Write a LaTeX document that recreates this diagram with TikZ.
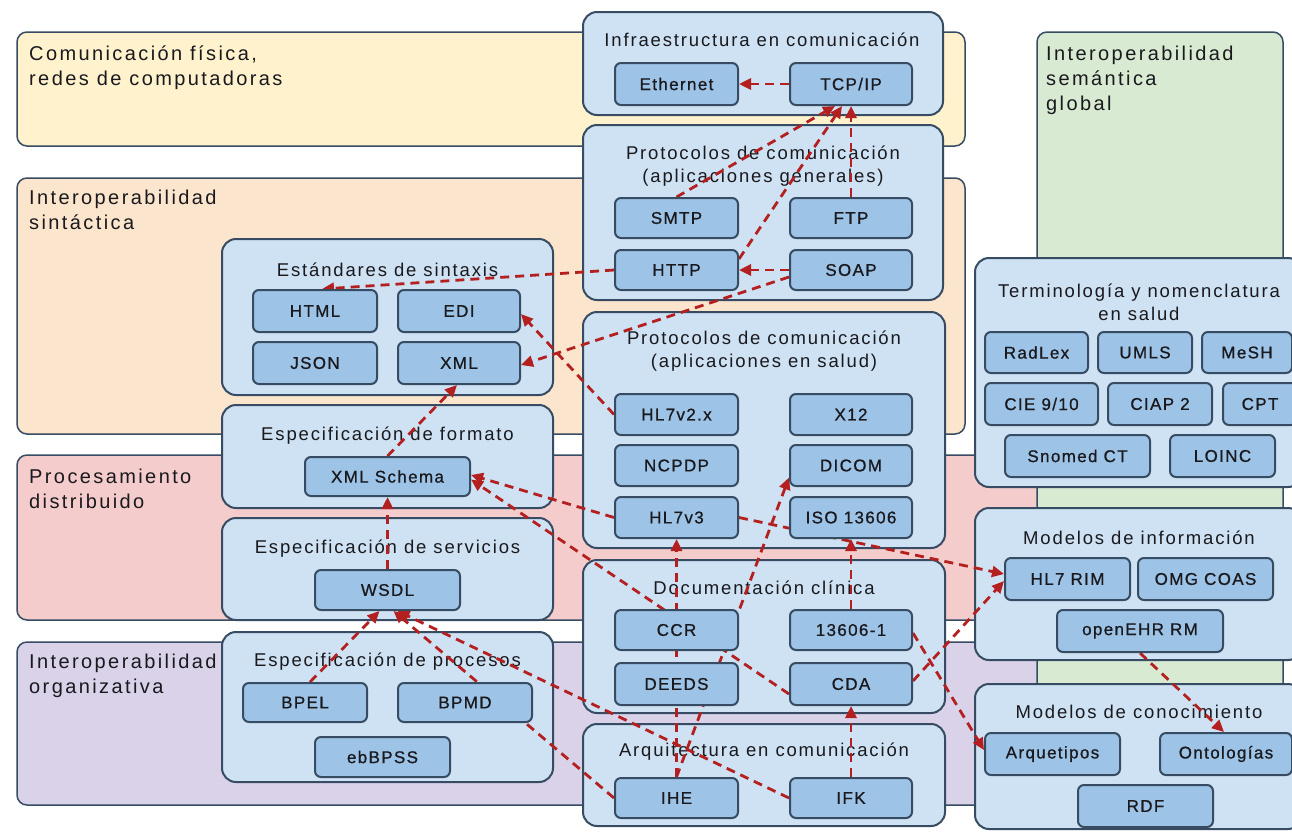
\documentclass[tikz,border=0pt]{standalone}
\usepackage{fontspec}
\setmainfont{Liberation Sans}
\newfontfamily\bandfont{Liberation Sans}[LetterSpace=12]
\newfontfamily\titlefont{Liberation Sans}[LetterSpace=10]
\newfontfamily\itemfont{Liberation Sans}[LetterSpace=8,FakeBold=0.8]
\usetikzlibrary{arrows.meta}
\definecolor{bordc}{RGB}{55,76,98}
\definecolor{contc}{RGB}{207,226,243}
\definecolor{itmc}{RGB}{157,195,230}
\definecolor{yelc}{RGB}{255,242,204}
\definecolor{peachc}{RGB}{252,229,205}
\definecolor{pinkc}{RGB}{244,204,204}
\definecolor{purpc}{RGB}{217,210,233}
\definecolor{greenc}{RGB}{217,234,211}
\definecolor{redc}{RGB}{180,32,32}
\definecolor{txtc}{RGB}{25,25,30}
\pgfdeclarelayer{back}
\pgfdeclarelayer{links}
\pgfsetlayers{back,links,main}
% item box from its corners: name, x1, y1, x2, y2, label
\newcommand{\mkitem}[6]{\node[itm, minimum width={#4-#2}, minimum height={#5-#3}] (#1) at ({(#2+#4)/2},{(#3+#5)/2}) {#6};}
% container box from its corners
\newcommand{\mkcont}[5]{\node[cont, minimum width={#4-#2}, minimum height={#5-#3}] (#1) at ({(#2+#4)/2},{(#3+#5)/2}) {};}
\begin{document}
\begin{tikzpicture}[x=1pt,y=-1pt,
  band/.style={draw=bordc, line width=1.5pt, rounded corners=10pt},
  cont/.style={draw=bordc, fill=contc, line width=2pt, rounded corners=14pt, inner sep=0pt},
  itm/.style={draw=bordc, fill=itmc, line width=2pt, rounded corners=6pt, inner sep=0pt,
    font=\itemfont\fontsize{17}{20}\selectfont, text=txtc},
  ttl/.style={font=\titlefont\fontsize{18.5}{23}\selectfont, align=center, text=txtc, inner sep=0pt},
  blabel/.style={font=\bandfont\fontsize{20}{25}\selectfont, align=left, anchor=north west, text=txtc, inner sep=0pt},
  conn/.style={draw=redc, line width=2.8pt, dash pattern=on 9pt off 6pt,
    -{Triangle[length=12pt,width=11pt]}}
]
\useasboundingbox (0,0) rectangle (1292,831);

\begin{pgfonlayer}{back}
  \fill[white] (0,0) rectangle (1292,831);
  % horizontal layers
  \draw[band, fill=yelc]   (17,32)  rectangle (965,146);
  \draw[band, fill=peachc] (17,178) rectangle (965,434);
  \draw[band, fill=pinkc]  (17,455) rectangle (1045,620);
  \draw[band, fill=purpc]  (17,642) rectangle (1045,805);
  % vertical semantic column
  \draw[band, fill=greenc] (1037,32) rectangle (1283,805);

  \node[blabel] (lblfis) at (29,45.5) {Comunicación física,\\redes de computadoras};
  \node[blabel] (lblsin) at (29,189.5) {Interoperabilidad\\sintáctica};
  \node[blabel] (lblpro) at (29,468.5) {Procesamiento\\distribuido};
  \node[blabel] (lblorg) at (29,653.5) {Interoperabilidad\\organizativa};
  \node[blabel] (lblsem) at (1046,45.5) {Interoperabilidad\\semántica\\global};

  % containers
  \mkcont{cinfra}{583}{12}{943}{115}
  \mkcont{cprogen}{583}{125}{943}{300}
  \mkcont{cprosal}{583}{312}{945}{548}
  \mkcont{cdoc}{583}{560}{945}{713}
  \mkcont{carq}{583}{724}{945}{826}
  \mkcont{cest}{222}{239}{553}{395}
  \mkcont{cfmt}{222}{405}{553}{508}
  \mkcont{csrv}{222}{518}{553}{620}
  \mkcont{cproc}{222}{632}{553}{782}
  \mkcont{cterm}{975}{258}{1302}{487}
  \mkcont{cinfo}{975}{508}{1302}{660}
  \mkcont{cknow}{975}{684}{1302}{829}

  % container titles
  \node[ttl] (tinfra) at (762,40) {Infraestructura en comunicación};
  \node[ttl] (tprogen) at (763,166.5) {Protocolos de comunicación\\(aplicaciones generales)};
  \node[ttl] (tprosal) at (764,351.5) {Protocolos de comunicación\\(aplicaciones en salud)};
  \node[ttl] (tdoc) at (764,588) {Documentación clínica};
  \node[ttl] (tarq) at (764,752) {Arquitectura en comunicación};
  \node[ttl] (test) at (387.5,270) {Estándares de sintaxis};
  \node[ttl] (tfmt) at (387.5,436) {Especificación de formato};
  \node[ttl] (tsrv) at (387.5,549) {Especificación de servicios};
  \node[ttl] (tproc) at (387.5,662) {Especificación de procesos};
  \node[ttl] (tterm) at (1139,302.5) {Terminología y nomenclatura\\en salud};
  \node[ttl] (tinfo) at (1139,538) {Modelos de información};
  \node[ttl] (tknow) at (1139,712) {Modelos de conocimiento};
\end{pgfonlayer}

% items
\mkitem{ethernet}{615}{63}{738}{105}{Ethernet}
\mkitem{tcpip}{790}{63}{912}{105}{TCP/IP}
\mkitem{smtp}{615}{198}{738}{238}{SMTP}
\mkitem{ftp}{790}{198}{912}{238}{FTP}
\mkitem{http}{615}{250}{738}{290}{HTTP}
\mkitem{soap}{790}{250}{912}{290}{SOAP}
\mkitem{hltwo}{615}{394}{738}{435}{HL7v2.x}
\mkitem{xtwelve}{790}{394}{912}{435}{X12}
\mkitem{ncpdp}{615}{445}{738}{486}{NCPDP}
\mkitem{dicom}{790}{445}{912}{486}{DICOM}
\mkitem{hlthree}{615}{497}{738}{538}{HL7v3}
\mkitem{iso}{790}{497}{912}{538}{ISO 13606}
\mkitem{ccr}{615}{610}{738}{650}{CCR}
\mkitem{isoone}{790}{610}{912}{650}{13606-1}
\mkitem{deeds}{615}{663}{738}{705}{DEEDS}
\mkitem{cda}{790}{663}{912}{705}{CDA}
\mkitem{ihe}{615}{778}{738}{818}{IHE}
\mkitem{ifk}{790}{778}{912}{818}{IFK}
\mkitem{html}{253}{290}{377}{332}{HTML}
\mkitem{edi}{398}{290}{520}{332}{EDI}
\mkitem{json}{253}{342}{377}{384}{JSON}
\mkitem{xml}{398}{342}{520}{384}{XML}
\mkitem{xmlschema}{305}{457}{470}{496}{XML Schema}
\mkitem{wsdl}{315}{570}{460}{610}{WSDL}
\mkitem{bpel}{243}{683}{367}{722}{BPEL}
\mkitem{bpmd}{398}{683}{532}{722}{BPMD}
\mkitem{ebbpss}{315}{737}{450}{777}{ebBPSS}
\mkitem{radlex}{985}{332}{1088}{373}{RadLex}
\mkitem{umls}{1098}{332}{1192}{373}{UMLS}
\mkitem{mesh}{1202}{332}{1292}{373}{MeSH}
\mkitem{cie}{985}{383}{1098}{425}{CIE 9/10}
\mkitem{ciap}{1108}{383}{1212}{425}{CIAP 2}
\mkitem{cpt}{1223}{383}{1297}{425}{CPT}
\mkitem{snomed}{1005}{435}{1150}{477}{Snomed CT}
\mkitem{loinc}{1170}{435}{1275}{477}{LOINC}
\mkitem{hlrim}{1005}{558}{1130}{600}{HL7 RIM}
\mkitem{omg}{1138}{558}{1273}{600}{OMG COAS}
\mkitem{openehr}{1057}{610}{1223}{652}{openEHR RM}
\mkitem{arquet}{985}{733}{1120}{775}{Arquetipos}
\mkitem{onto}{1160}{733}{1292}{775}{Ontologías}
\mkitem{rdf}{1078}{785}{1213}{827}{RDF}

% dependencies, drawn under the item boxes
\begin{pgfonlayer}{links}
  \draw[conn] (tcpip.west) -- (ethernet.east);
  \draw[conn] (smtp.north) -- ([xshift=-16]tcpip.south);
  \draw[conn] ([yshift=-10]http.north east) -- ([xshift=-9]tcpip.south);
  \draw[conn] (ftp.north) -- (tcpip.south);
  \draw[conn] (soap.west) -- (http.east);
  \draw[conn] ([yshift=-7]soap.west) -- ([yshift=-2]xml.east);
  \draw[conn] (http.west) -- ([xshift=7]html.north);
  \draw[conn] (hltwo.west) -- ([yshift=-3]edi.east);
  \draw[conn] (xmlschema.north) -- ([xshift=-2]xml.south);
  \draw[conn] (wsdl.north) -- (xmlschema.south);
  \draw[conn] ([xshift=5]bpel.north) -- ([xshift=-8]wsdl.south);
  \draw[conn] (ihe.west) -- ([xshift=6]wsdl.south);
  \draw[conn] (ifk.west) -- ([xshift=10]wsdl.south);
  \draw[conn] (hlthree.west) -- ([yshift=1.5]xmlschema.east);
  \draw[conn] ([yshift=-10]cda.west) -- ([yshift=-3]xmlschema.east);
  \draw[conn] (ihe.north) -- (hlthree.south);
  \draw[conn] (ihe.north) -- ([yshift=-12]dicom.west);
  \draw[conn] (isoone.north) -- (iso.south);
  \draw[conn] (ifk.north) -- (cda.south);
  \draw[conn] (hlthree.east) -- ([yshift=5]hlrim.west);
  \draw[conn] ([yshift=3]cda.east) -- ([yshift=-2]hlrim.west);
  \draw[conn] ([yshift=-3]isoone.east) -- ([yshift=4]arquet.west);
  \draw[conn] (openehr.south) -- ([xshift=-2]onto.north);
\end{pgfonlayer}
\end{tikzpicture}
\end{document}
